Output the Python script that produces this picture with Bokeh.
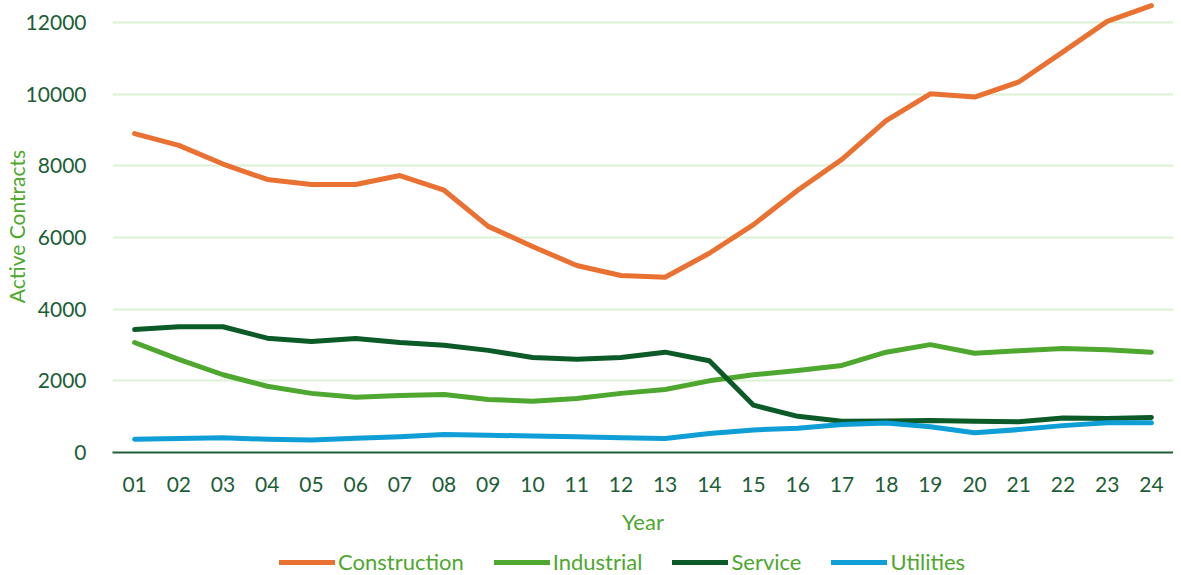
from bokeh.plotting import figure
from bokeh.layouts import column
from bokeh.models import FactorRange, Range1d, Legend, LegendItem, SingleIntervalTicker
from bokeh.embed import file_html
from bokeh.resources import INLINE

years = ["01", "02", "03", "04", "05", "06", "07", "08", "09", "10", "11", "12",
         "13", "14", "15", "16", "17", "18", "19", "20", "21", "22", "23", "24"]
construction = [8900, 8570, 8050, 7620, 7480, 7480, 7730, 7320, 6310, 5750, 5220, 4940,
                4890, 5560, 6360, 7320, 8180, 9260, 10010, 9920, 10340, 11180, 12030, 12470]
industrial = [3070, 2600, 2170, 1850, 1650, 1540, 1590, 1620, 1480, 1430, 1510, 1650,
              1760, 2000, 2170, 2290, 2430, 2800, 3010, 2770, 2840, 2900, 2870, 2800]
service = [3430, 3510, 3510, 3190, 3100, 3180, 3070, 2990, 2850, 2650, 2600, 2650,
           2800, 2560, 1320, 1010, 870, 880, 890, 870, 860, 960, 950, 980]
utilities = [370, 390, 410, 370, 350, 400, 440, 500, 480, 460, 440, 410,
             390, 530, 630, 680, 780, 820, 720, 550, 640, 750, 830, 830]

series = [
    ("Construction", construction, "#E97132"),
    ("Industrial", industrial, "#4EA72E"),
    ("Service", service, "#0B5A27"),
    ("Utilities", utilities, "#0F9ED5"),
]

FONT = "Lato"
TICK_COLOR = "#1C5E36"
TITLE_COLOR = "#4EA72E"

p = figure(frame_width=1061, frame_height=452, x_range=FactorRange(*years),
           y_range=Range1d(0, 12614),
           output_backend="svg", toolbar_location=None, min_border_left=0,
           min_border_right=0, min_border_top=0, min_border_bottom=0)
p.outline_line_color = None
p.background_fill_color = "white"
p.border_fill_color = "white"

for name, vals, color in series:
    p.line(years, vals, line_color=color, line_width=5, line_join="round", line_cap="round")

p.yaxis.ticker = SingleIntervalTicker(interval=2000)
p.ygrid.grid_line_color = "#DDF2D5"
p.ygrid.grid_line_width = 2
p.xgrid.grid_line_color = None

p.yaxis.axis_line_color = None
p.yaxis.major_tick_line_color = None
p.yaxis.minor_tick_line_color = None
p.yaxis.major_tick_out = 0
p.yaxis.major_label_text_font = FONT
p.yaxis.major_label_text_font_size = "21px"
p.yaxis.major_label_text_color = TICK_COLOR
p.yaxis.major_label_standoff = 22
p.yaxis.axis_label = "Active Contracts"
p.yaxis.axis_label_text_font = FONT
p.yaxis.axis_label_text_font_size = "21px"
p.yaxis.axis_label_text_font_style = "normal"
p.yaxis.axis_label_text_color = TITLE_COLOR
p.yaxis.axis_label_standoff = -6

p.xaxis.axis_line_color = "#1C5E36"
p.xaxis.axis_line_width = 2
p.xaxis.major_tick_line_color = None
p.xaxis.minor_tick_line_color = None
p.xaxis.major_tick_out = 0
p.xaxis.major_label_text_font = FONT
p.xaxis.major_label_text_font_size = "21px"
p.xaxis.major_label_text_color = TICK_COLOR
p.xaxis.major_label_standoff = 24
p.xaxis.axis_label = "Year"
p.xaxis.axis_label_text_font = FONT
p.xaxis.axis_label_text_font_size = "22px"
p.xaxis.axis_label_text_font_style = "normal"
p.xaxis.axis_label_text_color = TITLE_COLOR
p.xaxis.axis_label_standoff = 13

# legend strip below the chart
q = figure(width=p.frame_width + 107, height=39, x_range=FactorRange(*years),
           y_range=Range1d(-2e6, -1e6), x_axis_location=None, y_axis_location=None,
           output_backend="svg", toolbar_location=None, min_border_left=0,
           min_border_right=0, min_border_top=0, min_border_bottom=0)
q.outline_line_color = None
q.xgrid.grid_line_color = None
q.ygrid.grid_line_color = None
items = []
for name, vals, color in series:
    r = q.line(years, vals, line_color=color, line_width=5, line_cap="round")
    items.append(LegendItem(label=name, renderers=[r]))

legend = Legend(items=items, orientation="horizontal", location=(167, 1))
legend.label_text_font = FONT
legend.label_text_font_size = "22px"
legend.label_text_color = TITLE_COLOR
legend.glyph_width = 56
legend.glyph_height = 20
legend.spacing = 30
legend.label_standoff = 3
legend.label_height = 20
legend.border_line_color = None
legend.background_fill_alpha = 0
legend.padding = 0
legend.margin = 0
q.add_layout(legend, "center")

layout = column(p, q, spacing=0)
open("out.html", "w").write(file_html(layout, INLINE))
